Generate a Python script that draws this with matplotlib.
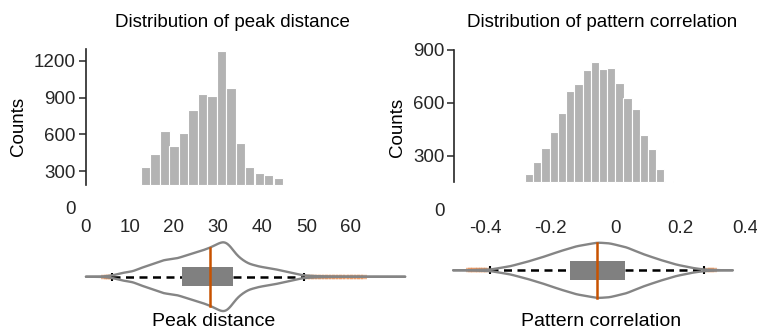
import numpy as np
import matplotlib
matplotlib.use("Agg")
import matplotlib.pyplot as plt

plt.rcParams['font.family'] = ['Liberation Sans', 'DejaVu Sans']

# ---------------- data ----------------
# Peak distance histogram
peak_bin_left = [12.6, 14.7, 16.9, 19.0, 21.2, 23.3, 25.4, 27.6, 29.7, 31.9, 34.0, 36.1, 38.3, 40.4, 42.6]
peak_bin_width = 2.14
peak_counts = [335, 441, 629, 507, 611, 799, 932, 916, 1278, 981, 531, 330, 284, 265, 245]
peak_base = 185
peak_yticks = [0, 300, 600, 900, 1200]
peak_xticks = [0, 10, 20, 30, 40, 50, 60]

# Pattern correlation histogram
corr_bin_left = [-0.278, -0.253, -0.228, -0.202, -0.177, -0.152, -0.126, -0.101, -0.076,
                 -0.050, -0.025, 0.000, 0.025, 0.051, 0.076, 0.101, 0.126, 0.152]
corr_bin_width = 0.0253
corr_counts = [200, 264, 347, 438, 542, 668, 708, 785, 832, 791, 796, 715, 627, 564, 417, 341, 225, 157]
corr_base = 155
corr_yticks = [0, 300, 600, 900]
corr_xticks = [-0.4, -0.2, 0, 0.2, 0.4]
corr_xticklabels = ['-0.4', '-0.2', '0', '0.2', '0.4']

# Violin profiles (position, relative half width)
peak_violin_x = [0.1, 4.0, 6.0, 8.6, 10.8, 12.3, 14.6, 17.6, 20.7, 23.7, 26.0, 28.2, 30.0, 30.8,
                 31.6, 32.7, 34.2, 35.5, 37.0, 39.5, 41.0, 43.0, 44.6, 47.0, 49.4, 52.0, 56.0, 60.0, 72.4]
peak_violin_w = [0, 0.2, 1.2, 4.0, 5.5, 8.3, 11.7, 16.5, 18.3, 22.5, 25.5, 29, 33, 34.5,
                 35, 31, 22, 17, 13, 10, 9, 7.5, 5.8, 3.5, 1.3, 0.6, 0.2, 0.05, 0]
peak_q1, peak_median, peak_q3 = 21.8, 28.2, 33.3
peak_whisk_lo, peak_whisk_hi = 6.1, 49.5
peak_outliers = [4.3, 4.8, 5.3, 5.8, 50.2, 51.0, 51.8, 52.6, 53.4, 54.2, 55.0, 55.8, 56.6,
                 57.4, 58.2, 59.0, 59.8, 60.6, 61.4, 62.2, 63.0]

corr_violin_x = [-0.50, -0.45, -0.387, -0.325, -0.274, -0.223, -0.171, -0.12, -0.055, -0.018,
                 0.034, 0.085, 0.136, 0.188, 0.239, 0.275, 0.32, 0.362]
corr_violin_w = [0, 0.1, 0.7, 4, 8.3, 13.3, 19, 24, 27.7, 27, 23, 16.3, 10.7, 5.7, 2.3, 0.7, 0.1, 0]
corr_q1, corr_median, corr_q3 = -0.141, -0.055, 0.029
corr_whisk_lo, corr_whisk_hi = -0.387, 0.275
corr_outliers = [-0.452, -0.444, -0.436, -0.428, -0.420, -0.412, -0.404, -0.396, 0.287, 0.295, 0.303]

# ---------------- style ----------------
W, H = 757, 332
BAR = '#b3b3b3'
VIOL = '#858585'
ORANGE = '#c85200'
OUT = '#e8874a'
TXT = '#262626'
FS = 13.5

fig = plt.figure(figsize=(W / 100, H / 100), dpi=100)


def rect(x0, x1, ytop, ybot):
    return [x0 / W, 1 - ybot / H, (x1 - x0) / W, (ybot - ytop) / H]


def smooth_profile(xs, ws, n=600):
    grid = np.linspace(xs[0], xs[-1], n)
    vals = np.interp(grid, xs, ws)
    k = np.hanning(25)
    k /= k.sum()
    pad = np.pad(vals, 12, mode='edge')
    sm = np.convolve(pad, k, mode='valid')
    return grid, sm


def hist_panel(ax, left, width, counts, base, xticks, xticklabels, yticks, xlim, ylim, spine_top, title):
    heights = [c - base for c in counts]
    ax.bar(left, heights, width=width, bottom=base, align='edge', color=BAR,
           edgecolor='white', linewidth=0.8)
    ax.set_xlim(*xlim)
    ax.set_ylim(*ylim)
    for s in ['top', 'right', 'bottom']:
        ax.spines[s].set_visible(False)
    ax.spines['left'].set_bounds(base, spine_top)
    ax.spines['left'].set_color(TXT)
    ax.spines['left'].set_linewidth(1.2)
    ax.set_yticks(yticks)
    ax.set_yticklabels([str(v) for v in yticks])
    ax.yaxis.get_major_ticks()[0].tick1line.set_visible(False)
    ax.tick_params(axis='y', length=5, width=1.1, color=TXT, labelsize=FS, labelcolor=TXT, pad=2)
    ax.set_xticks(xticks)
    ax.set_xticklabels(xticklabels)
    ax.tick_params(axis='x', length=0, labelsize=FS, labelcolor=TXT, pad=8)
    ax.set_ylabel('Counts', fontsize=FS, color='black', labelpad=5)
    ax.set_title(title, fontsize=FS, color='black', pad=13)
    ax.patch.set_alpha(0)


def violin_panel(ax, vx, vw, q1, med, q3, wlo, whi, outliers, xlim, unit_px, center_px,
                 ytop_px, ybot_px, xlabel, label_x):
    grid, sm = smooth_profile(vx, vw)
    ax.set_xlim(*xlim)
    ax.set_ylim(-(ybot_px - center_px) / unit_px, (center_px - ytop_px) / unit_px)
    ax.axis('off')
    # outliers
    ax.plot(outliers, np.zeros(len(outliers)), linestyle='none', marker='_', ms=5, mew=3.2,
            color=OUT, alpha=0.6, zorder=2, clip_on=False)
    # whiskers
    ax.plot([wlo, q1], [0, 0], color='black', lw=1.8, ls=(0, (3.2, 2.2)), zorder=3)
    ax.plot([q3, whi], [0, 0], color='black', lw=1.8, ls=(0, (3.2, 2.2)), zorder=3)
    ax.plot([wlo, whi], [0, 0], linestyle='none', marker='|', ms=6, mew=1.5, color='black', zorder=3)
    # box
    ax.barh(0, q3 - q1, left=q1, height=2 * 9.3 / unit_px, color='#808080', zorder=4)
    # violin outline
    ax.plot(grid, sm, color=VIOL, lw=1.7, zorder=5, clip_on=False, solid_capstyle='round')
    ax.plot(grid, -sm, color=VIOL, lw=1.7, zorder=5, clip_on=False, solid_capstyle='round')
    # median
    hm = np.interp(med, grid, sm)
    ax.plot([med, med], [-hm, hm], color=ORANGE, lw=1.8, zorder=6)
    ax.text(label_x, (ybot_px - 322) / (ybot_px - ytop_px), xlabel, transform=ax.transAxes,
            ha='center', va='center', fontsize=FS + 0.5, color='black')


# left column
axh1 = fig.add_axes(rect(85.5, 380, 45, 207.7))
hist_panel(axh1, peak_bin_left, peak_bin_width, peak_counts, peak_base, peak_xticks,
           [str(v) for v in peak_xticks], peak_yticks, (0, (380 - 85.5) / 4.415),
           (0, (207.7 - 45) / 36.7 * 300), 1295, 'Distribution of peak distance')

axv1 = fig.add_axes(rect(85.5, 380, 238, 312))
violin_panel(axv1, peak_violin_x, peak_violin_w, peak_q1, peak_median, peak_q3,
             peak_whisk_lo, peak_whisk_hi, peak_outliers, (0, (380 - 85.5) / 4.415),
             1.0, 276.7, 238, 312, 'Peak distance', (214 - 85.5) / (380 - 85.5))

# right column
x0r = 454.3
xr_right = 750
xl_r = (-0.4 - (485.7 - x0r) / 325, 0.4 + (xr_right - 745) / 325)
axh2 = fig.add_axes(rect(x0r, xr_right, 45, 209))
hist_panel(axh2, corr_bin_left, corr_bin_width, corr_counts, corr_base, corr_xticks,
           corr_xticklabels, corr_yticks, xl_r, (0, (209 - 45) / 53 * 300), 900,
           'Distribution of pattern correlation')

axv2 = fig.add_axes(rect(x0r, xr_right, 238, 312))
violin_panel(axv2, corr_violin_x, corr_violin_w, corr_q1, corr_median, corr_q3,
             corr_whisk_lo, corr_whisk_hi, corr_outliers, xl_r,
             1.0, 270.3, 238, 312, 'Pattern correlation', (601 - x0r) / (xr_right - x0r))

fig.savefig('out.png', dpi=100)
